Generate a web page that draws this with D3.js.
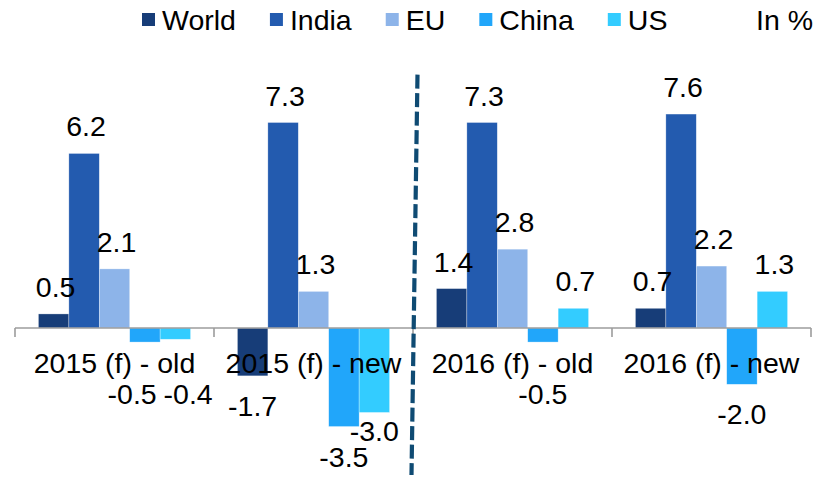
<!DOCTYPE html>
<html><head><meta charset="utf-8">
<script src="https://cdn.jsdelivr.net/npm/d3@7"></script>
<style>body{margin:0;background:#fff}text{font-family:"Liberation Sans",Arial,sans-serif;fill:#000}</style>
</head><body><svg id="c" width="821" height="479"></svg>
<script>
const categories = ["2015 (f) - old", "2015 (f) - new", "2016 (f) - old", "2016 (f) - new"];
const seriesNames = ["World", "India", "EU", "China", "US"];
const world = [0.5, -1.7, 1.4, 0.7];
const india = [6.2, 7.3, 7.3, 7.6];
const eu = [2.1, 1.3, 2.8, 2.2];
const china = [-0.5, -3.5, -0.5, -2.0];
const us = [-0.4, -3.0, 0.7, 1.3];
const colors = ["#173D78", "#235BAF", "#8DB4E9", "#21A6FA", "#33CCFF"];
const unitLabel = "In %";

const seriesValues = [world, india, eu, china, us];
const W = 821, H = 479, FS = 28.5;
const svg = d3.select("#c");
const fmt = d3.formatLocale({decimal: ".", thousands: ",", grouping: [3], currency: ["", ""], minus: "-"}).format(".1f");

const x0 = d3.scaleBand().domain(categories).range([15, 811]).paddingInner(0).paddingOuter(0);
const x1 = d3.scaleBand().domain(seriesNames).range([0, x0.bandwidth()]).paddingInner(0).paddingOuter(0.77);
const y = d3.scaleLinear().domain([-4, 8]).range([440.6, 102.8]);
const color = d3.scaleOrdinal().domain(seriesNames).range(colors);

const data = [];
categories.forEach((c, ci) => {
  seriesNames.forEach((s, si) => {
    data.push({cat: c, ci, s, si, v: seriesValues[si][ci]});
  });
});

// bars
svg.append("g").selectAll("rect").data(data).join("rect")
  .attr("x", d => x0(d.cat) + x1(d.s))
  .attr("width", x1.bandwidth())
  .attr("y", d => y(Math.max(0, d.v)))
  .attr("height", d => Math.abs(y(d.v) - y(0)))
  .attr("fill", d => color(d.s))
  .attr("stroke", "#ffffff").attr("stroke-opacity", 0.5).attr("stroke-width", 0.6);

// axis line + boundary ticks
const y0 = y(0);
const ax = svg.append("g").attr("stroke", "#9c9c9c").attr("stroke-width", 1.6);
ax.append("line").attr("x1", x0.range()[0]).attr("x2", x0.range()[1]).attr("y1", y0).attr("y2", y0);
const bounds = categories.map(c => x0(c)).concat([x0(categories[categories.length - 1]) + x0.bandwidth()]);
ax.selectAll("line.t").data(bounds).join("line").attr("class", "t")
  .attr("x1", d => d).attr("x2", d => d).attr("y1", y0).attr("y2", y0 + 9);

// category labels
const xAxis = d3.axisBottom(x0).tickSize(0).tickPadding(25);
const gx = svg.append("g").attr("transform", `translate(0,${y0})`).call(xAxis);
gx.select(".domain").remove();
gx.selectAll("text").style("font-size", FS + "px").attr("fill", "#000").style("font-family", '"Liberation Sans",Arial,sans-serif');

// value labels
const labels = data.map(d => {
  const cx = x0(d.cat) + x1(d.s) + x1.bandwidth() / 2;
  let by;
  if (d.v >= 0) by = y(d.v) - 17;
  else by = Math.max(y(d.v) + 40, 404);
  return {d, cx: d.v >= 0 ? cx + 2 : cx, by, text: fmt(d.v)};
});
// simple overlap resolution for negative labels in same group
categories.forEach((c, ci) => {
  const neg = labels.filter(l => l.d.ci === ci && l.d.v < 0).sort((a, b) => a.d.si - b.d.si);
  for (let i = 0; i < neg.length - 1; i++) {
    const a = neg[i], b = neg[i + 1];
    if (b.d.si - a.d.si !== 1) continue;
    const wNeed = 56;
    const dx = b.cx - a.cx;
    if (Math.abs(a.by - b.by) < 6) {
      if (dx < wNeed) { const p = (wNeed - dx) / 2; a.cx -= p; b.cx += p; }
    } else if (Math.abs(a.by - b.by) < 24) {
      if (a.by < b.by) a.by = b.by - 26; else b.by = a.by - 26;
    }
  }
});
svg.append("g").selectAll("text").data(labels).join("text")
  .attr("x", l => l.cx).attr("y", l => l.by)
  .attr("text-anchor", "middle").style("font-size", FS + "px")
  .text(l => l.text);

// dashed separator
const sepX = x0(categories[2]);
svg.append("line")
  .attr("x1", sepX + 4.5).attr("y1", y(9))
  .attr("x2", sepX - 1.5).attr("y2", H - 4)
  .attr("stroke", "#0F4B73").attr("stroke-width", 4.2)
  .attr("stroke-dasharray", "14,4.5");

// legend
const lg = svg.append("g");
let lx = 142;
seriesNames.forEach((s, i) => {
  lg.append("rect").attr("x", lx).attr("y", 13).attr("width", 13).attr("height", 13).attr("fill", colors[i]);
  const t = lg.append("text").attr("x", lx + 20).attr("y", 30).style("font-size", FS + "px").text(s);
  lx += 20 + t.node().getComputedTextLength() + 34;
});
svg.append("text").attr("x", 813).attr("y", 30).attr("text-anchor", "end").style("font-size", FS + "px").text(unitLabel);
</script></body></html>
